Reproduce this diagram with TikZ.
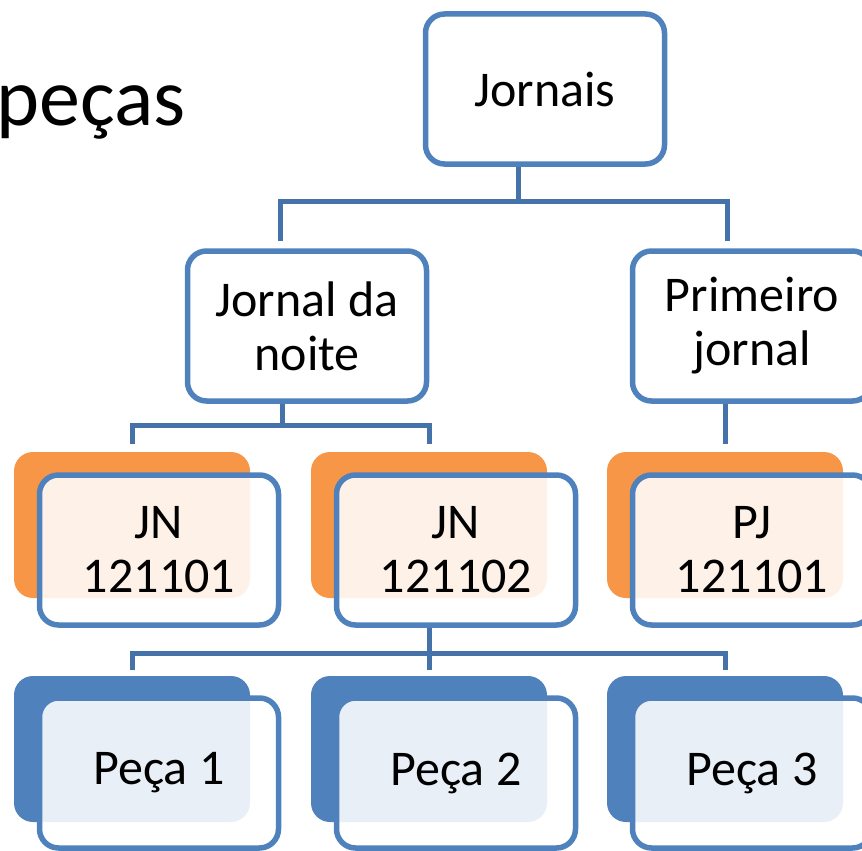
\documentclass[tikz,border=0pt]{standalone}
\usepackage{fontspec}
\setmainfont{Carlito}
\usetikzlibrary{positioning}
\definecolor{accblue}{HTML}{4F81BD}
\definecolor{accorange}{HTML}{F79646}
\definecolor{linkblue}{HTML}{4672AA}
\tikzset{
  box/.style={draw=accblue,line width=5.5pt,rounded corners=19pt,fill=white,
    minimum width=239pt,minimum height=150pt,align=center,inner sep=0pt,
    font=\fontsize{50}{54}\selectfont},
  front/.style={box,fill opacity=0.88,text opacity=1},
  backpad/.style={rounded corners=19pt,minimum width=236pt,minimum height=146pt,inner sep=0pt},
  conn/.style={draw=linkblue,line width=5pt}
}
\begin{document}
\begin{tikzpicture}[x=1pt,y=1pt]
  \useasboundingbox (0,0) rectangle (862,-851);
  \node[anchor=base east,inner sep=0pt,font=\fontsize{82}{86}\selectfont] (titulo) at (186,-125) {peças};
  % topo da hierarquia
  \node[box] (jornais) at (545,-89) {Jornais};
  \node[box] (noite) at (307,-326) {Jornal da\\noite};
  \node[box] (primeiro) at (752,-326) {Primeiro\\jornal};
  % edicoes (fundo laranja) e pecas (fundo azul)
  \foreach \n/\x/\t in {1/132/{JN\\121101}, 2/429/{JN\\121102}, 3/725/{PJ\\121101}} {
    \node[backpad,fill=accorange] (ob\n) at (\x,-525) {};
    \node[front] (ed\n) at ([xshift=27pt,yshift=-25pt]ob\n.center) {\t};
  }
  \foreach \n/\x/\t in {1/132/{Peça 1}, 2/429/{Peça 2}, 3/725/{Peça 3}} {
    \node[backpad,fill=accblue] (bb\n) at (\x,-749) {};
    \node[front] (pc\n) at ([xshift=27pt,yshift=-24pt]bb\n.center) {\t};
  }
  % ligacoes
  \draw[conn] ([xshift=-27pt]jornais.south) -- ++(0,-35) -| ([xshift=-27pt,yshift=7pt]noite.north);
  \draw[conn] ([xshift=-27pt]jornais.south) -- ++(0,-35) -| ([xshift=-25pt,yshift=7pt]primeiro.north);
  \foreach \n in {1,2} {\draw[conn] ([xshift=-25pt]noite.south) -- ++(0,-22) -| ([yshift=8pt]ob\n.north);}
  \draw[conn] (primeiro.south -| ob3.north) -- ([yshift=8pt]ob3.north);
  \foreach \n in {1,2,3} {\draw[conn] (ed2.south -| ob2.north) -- ++(0,-26) -| ([yshift=6pt]bb\n.north);}
\end{tikzpicture}
\end{document}
